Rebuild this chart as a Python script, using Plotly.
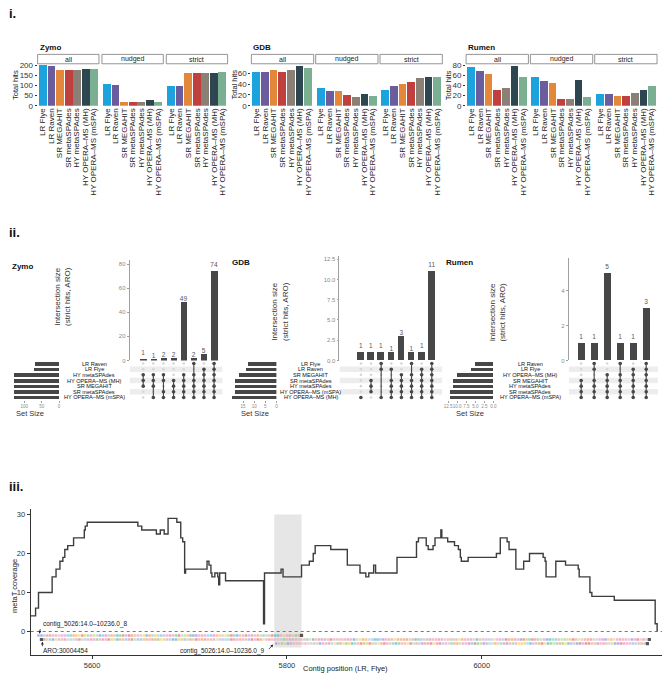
import plotly.graph_objects as go

# ================= DATA =================
ASSEMBLERS = ["LR Flye", "LR Raven", "SR MEGAHIT", "SR metaSPAdes",
              "HY metaSPAdes", "HY OPERA–MS (MH)", "HY OPERA–MS (mSPA)"]
ASM_COLORS = ["#1CA3DD", "#6A5C9D", "#E3883A", "#C0403F", "#8B8075", "#2D4650", "#7AAF92"]
FACETS = ["all", "nudged", "strict"]

zymo_all = [198, 193, 175, 175, 177, 182, 179]
zymo_nudged = [105, 100, 18, 15, 18, 25, 15]
zymo_strict = [97, 95, 159, 162, 159, 159, 164]
gdb_all = [61, 61, 66, 62, 65, 73, 69]
gdb_nudged = [32, 27, 27, 19, 15, 21, 17]
gdb_strict = [29, 35, 40, 44, 51, 53, 53]
rumen_all = [77, 69, 62, 31, 35, 79, 56]
rumen_nudged = [56, 49, 45, 13, 12, 50, 16]
rumen_strict = [22, 22, 18, 18, 24, 30, 39]

# UpSet panels (rows listed top to bottom)
zymo_rows = ["LR Raven", "LR Flye", "HY metaSPAdes", "HY OPERA–MS (MH)",
             "SR MEGAHIT", "SR metaSPAdes", "HY OPERA–MS (mSPA)"]
zymo_set_sizes = [71, 72, 129, 129, 129, 129, 129]
zymo_inter = [1, 1, 2, 2, 49, 2, 5, 74]
zymo_members = ["0011100", "0011101", "0011011", "0001111",
                "0011111", "1011111", "0111111", "1111111"]

gdb_rows = ["LR Flye", "LR Raven", "SR MEGAHIT", "SR metaSPAdes",
            "HY metaSPAdes", "HY OPERA–MS (mSPA)", "HY OPERA–MS (MH)"]
gdb_set_sizes = [13, 14, 17, 19, 19, 19, 20]
gdb_inter = [1, 1, 1, 1, 3, 1, 1, 11]
gdb_members = ["0000001", "0001110", "1100001", "0101111",
               "0011111", "1011111", "0111111", "1111111"]

rumen_rows = ["LR Raven", "LR Flye", "HY OPERA–MS (MH)", "SR MEGAHIT",
              "HY metaSPAdes", "SR metaSPAdes", "HY OPERA–MS (mSPA)"]
rumen_set_sizes = [5, 6, 10, 11, 11, 12, 12]
rumen_inter = [1, 1, 5, 1, 1, 3]
rumen_members = ["0001111", "1101111", "0011111", "1011111", "0111111", "1111111"]

# Coverage step profile (contig position, metaT coverage)
cov_pos = [5537, 5542, 5545, 5559, 5563, 5567, 5570, 5572, 5575, 5581, 5592, 5593, 5595,
           5647, 5651, 5666, 5670, 5674, 5678, 5687, 5691, 5693, 5695, 5696, 5718, 5720,
           5722, 5723, 5726, 5729, 5730, 5731, 5737, 5776, 5777, 5794, 5796, 5815, 5823,
           5827, 5829, 5845, 5862, 5875, 5881, 5884, 5889, 5891, 5913, 5933, 5935, 5943,
           5945, 5950, 5952, 5958, 5959, 5965, 5972, 5976, 5978, 5979, 5986, 6015, 6019,
           6026, 6028, 6035, 6043, 6049, 6063, 6065, 6066, 6076, 6086, 6099, 6100, 6111,
           6113, 6136, 6178, 6180]
cov_val = [4, 6, 10, 14, 16, 18, 19, 21, 22, 24, 26, 27, 28,
           27, 26, 25, 26, 25, 29, 28, 24, 23, 15, 16, 18, 17,
           15, 14, 15, 14, 12, 15, 13, 2, 15, 16, 14, 17, 18,
           20, 22, 21, 17, 15, 14, 15, 17, 15, 19, 23, 24, 22,
           21, 22, 24, 26, 24, 23, 22, 21, 19, 18, 19, 20, 24,
           23, 21, 16, 18, 20, 19, 18, 14, 18, 17, 16, 14, 10,
           9, 8, 2, 0]
highlight_region = [5787, 5815]

# translated sequence tracks ('*' = start/stop marker)
seq_row1 = "".join(["MKTLLVAGSS", "RQEPIDNFAY", "GKRLTEVHQW", "SDLPAGIKEF", "NTRAVLSQDG",
                    "YPHKMAESTR", "LVNGIFDQKP", "AWSLTEGRYV", "DHKANSLPQE", "*"])
seq_row2 = "".join(["*", "MNRKIAVLGT", "GSWGTALAQV", "LADNGHEVRL", "WGRRPEVLEQ", "INSTHKNPRY",
                    "LPDVELPASI", "TATTDLAEAV", "RDADLIVLAV", "PTQALRSVVS", "QIKPLLRPDA",
                    "VVVSLAKGIE", "PGTHKRMSEV", "IEEELGEHLR", "PRLAVLSGPS", "FAIEVAEGKP",
                    "TAVTIASTDE", "ELAKWVQDLF", "GSKHFRVYTN", "PDVIGVELGG", "ALKNVIALAA",
                    "GMSDGLG", "*"])
seq_row3 = "".join(["MTEYKLVVVG", "AGGVGKSALT", "IQLIQNHFVD", "EYDPTIEDSY", "RKQVVIDGET",
                    "CLLDILDTAG", "QEEYSAMRDQ", "YMRTGEGFLC", "VFAINNTKSF", "EDIHQYREQI",
                    "KRVKDSDDVP", "MVLVGNKCDL", "AARTVES", "*"])
seq_starts = [5545, 5548, 5789]
seq_levels = [-1.0, -2.05, -3.1]
AA_COLORS = {"A": "#EE9CC6", "R": "#7CC3E8", "N": "#EFCB4E", "D": "#DE6F6F", "C": "#A58BD8",
             "Q": "#7ACB8A", "E": "#F2A067", "G": "#C8C8C8", "H": "#52B8B2", "I": "#F0D870",
             "L": "#EC8CA0", "K": "#6E9FE0", "M": "#B487D0", "F": "#8DD29F", "P": "#F6B470",
             "S": "#DE9ADE", "T": "#98CBEE", "W": "#C28E58", "Y": "#B0DD80", "V": "#E8A8A8",
             "*": "#111111"}

# ================= LAYOUT HELPERS =================
W, H = 666, 680
FONT = "Liberation Sans, Arial, Helvetica, sans-serif"


def px_x(p):
    return p / W


def px_y(p):
    return 1 - p / H


fig = go.Figure()
layout = {}
annotations = []
shapes = []
cnt = {"x": 0, "y": 0}


def new_axis(letter, **kw):
    cnt[letter] += 1
    n = cnt[letter]
    key = f"{letter}axis" + ("" if n == 1 else str(n))
    ref = letter + ("" if n == 1 else str(n))
    base = dict(showgrid=False, zeroline=False, showline=False, ticks="",
                showticklabels=False, fixedrange=True)
    base.update(kw)
    layout[key] = base
    return ref, key


def txt(text, x, y, size, color="#222", bold=False, xanchor="left", angle=0, **kw):
    if bold:
        text = f"<b>{text}</b>"
    d = dict(text=text, x=px_x(x), y=px_y(y), xref="paper", yref="paper", showarrow=False,
             xanchor=xanchor, yanchor="middle", textangle=angle,
             font=dict(size=size, color=color, family=FONT))
    d.update(kw)
    annotations.append(d)


# ================= PANEL i =================
TOP_I, BOT_I = 62, 104
panel_i = [
    ("Zymo", [zymo_all, zymo_nudged, zymo_strict], [(35, 97), (100, 162), (165, 227)],
     205, [0, 50, 100, 150, 200], 12),
    ("GDB", [gdb_all, gdb_nudged, gdb_strict], [(251, 314), (316, 379), (381, 444)],
     76.4, [0, 20, 40, 60], 233),
    ("Rumen", [rumen_all, rumen_nudged, rumen_strict], [(468, 531), (533, 596), (598, 661)],
     82, [0, 20, 40, 60, 80], 450),
]
for name, series, xdoms, ymax, yticks, ytitle_x in panel_i:
    yref, ykey = new_axis("y", domain=[px_y(BOT_I), px_y(TOP_I)], range=[0, ymax],
                          tickvals=yticks, showticklabels=True, ticks="outside", ticklen=2,
                          tickcolor="#333", tickwidth=0.8, tickfont=dict(size=8, color="#333"))
    for i, (vals, fac, (a, b)) in enumerate(zip(series, FACETS, xdoms)):
        xref, xkey = new_axis("x", domain=[px_x(a), px_x(b)], range=[-0.6, 6.6], anchor=yref,
                              type="category", showticklabels=True, tickangle=-90,
                              tickmode="array", tickvals=ASSEMBLERS, ticktext=ASSEMBLERS,
                              tickfont=dict(size=8, color="#222"))
        if i == 0:
            layout[ykey]["anchor"] = xref
        fig.add_trace(go.Bar(x=ASSEMBLERS, y=vals, marker=dict(color=ASM_COLORS, line=dict(width=0)),
                             width=0.9, xaxis=xref, yaxis=yref, showlegend=False, hoverinfo="skip"))
        shapes.append(dict(type="rect", xref="paper", yref="paper", x0=px_x(a), x1=px_x(b),
                           y0=px_y(61.5), y1=px_y(52), line=dict(color="#7a7a7a", width=0.8),
                           fillcolor="white"))
        txt(fac, (a + b) / 2, 56.8, 7, xanchor="center")
    txt(name, xdoms[0][0], 45.5, 8, color="#111", bold=True)
    txt("Total hits", ytitle_x, 83, 7.5, xanchor="center", angle=-90)

# ================= PANEL ii (UpSet) =================
MAT_TOP, MAT_BOT = 362, 402
BAR_BASE = 361.7
panel_ii = [
    dict(name="Zymo", rows=zymo_rows, sizes=zymo_set_sizes, inter=zymo_inter, members=zymo_members,
         title=(7, 267), bar_dom=(128, 222), xr=(-1.34, 7.85), bar_top=260, ymax=83.5,
         yticks=[0, 20, 40, 60, 80], yfmt="d", ss_dom=(10, 56.7), ss_max=133,
         ss_ticks=[0, 50, 100], ss_fmt="d", label_cx=92, ylab=(60, 297), setsize_x=27, bw=0.62),
    dict(name="GDB", rows=gdb_rows, sizes=gdb_set_sizes, inter=gdb_inter, members=gdb_members,
         title=(229, 263), bar_dom=(340, 444), xr=(-2.12, 8.04), bar_top=256, ymax=12.9,
         yticks=[0, 2.5, 5, 7.5, 10, 12.5], yfmt=".1f", ss_dom=(230, 276.3), ss_max=20.6,
         ss_ticks=[0, 5, 10, 15], ss_fmt="d", label_cx=311, ylab=(279.5, 312), setsize_x=255, bw=0.65),
    dict(name="Rumen", rows=rumen_rows, sizes=rumen_set_sizes, inter=rumen_inter,
         members=rumen_members,
         title=(446, 263), bar_dom=(571.7, 662), xr=(-0.96, 5.91), bar_top=258, ymax=5.87,
         yticks=[0, 2, 4], yfmt="d", ss_dom=(448, 495.7), ss_max=13.0,
         ss_ticks=[0, 2.5, 5, 7.5, 10, 12.5], ss_fmt=".1f", label_cx=533, ylab=(499.5, 313),
         setsize_x=472, bw=0.56),
]
GRAY_TXT = "#8a8a8a"
DARK = "#474747"
for P in panel_ii:
    nrow = len(P["rows"])
    ncol = len(P["inter"])
    xa, xa_key = new_axis("x", domain=[px_x(P["bar_dom"][0]), px_x(P["bar_dom"][1])],
                          range=list(P["xr"]))
    ya, ya_key = new_axis("y", domain=[px_y(BAR_BASE), px_y(P["bar_top"])], range=[0, P["ymax"]],
                          anchor=xa, showline=True, linecolor="#a0a0a0", linewidth=0.8,
                          tickvals=P["yticks"], tickformat=P["yfmt"], showticklabels=True,
                          ticks="outside", ticklen=2, tickcolor="#a0a0a0",
                          tickfont=dict(size=6, color=GRAY_TXT))
    layout[xa_key]["anchor"] = ya
    ym, ym_key = new_axis("y", domain=[px_y(MAT_BOT), px_y(MAT_TOP)], range=[nrow - 0.5, -0.5],
                          anchor=xa)
    xs, xs_key = new_axis("x", domain=[px_x(P["ss_dom"][0]), px_x(P["ss_dom"][1])],
                          range=[P["ss_max"], 0], anchor=ym, tickvals=P["ss_ticks"],
                          tickformat=P["ss_fmt"], showticklabels=True, ticks="outside", ticklen=1.5,
                          tickangle=0, tickcolor="#a0a0a0", tickfont=dict(size=4.5, color=GRAY_TXT))

    cols = list(range(ncol))
    fig.add_trace(go.Bar(x=cols, y=P["inter"], xaxis=xa, yaxis=ya, width=P["bw"],
                         marker=dict(color=DARK, line=dict(width=0)), text=P["inter"],
                         textposition="outside", constraintext="none", cliponaxis=False,
                         textfont=dict(size=6.5, color="#555555", family=FONT),
                         outsidetextfont=dict(size=6.5, color="#555555", family=FONT),
                         showlegend=False, hoverinfo="skip"))

    # stripes in matrix
    for r in range(1, nrow, 2):
        shapes.append(dict(type="rect", xref=xa, yref=ym, x0=P["xr"][0], x1=P["xr"][1],
                           y0=r - 0.5, y1=r + 0.5, fillcolor="#EDEDED", line=dict(width=0),
                           layer="below"))

    in_x, in_y, ac_x, ac_y, ln_x, ln_y = [], [], [], [], [], []
    for c, m in enumerate(P["members"]):
        act = [r for r, v in enumerate(m) if v == "1"]
        for r, v in enumerate(m):
            if v == "1":
                ac_x.append(c)
                ac_y.append(r)
            else:
                in_x.append(c)
                in_y.append(r)
        ln_x += [c, c, None]
        ln_y += [min(act), max(act), None]
    fig.add_trace(go.Scatter(x=in_x, y=in_y, mode="markers", xaxis=xa, yaxis=ym,
                             marker=dict(size=2.6, color="#D6D6D6"), showlegend=False,
                             hoverinfo="skip"))
    fig.add_trace(go.Scatter(x=ln_x, y=ln_y, mode="lines", xaxis=xa, yaxis=ym,
                             line=dict(color=DARK, width=1.1), showlegend=False, hoverinfo="skip"))
    fig.add_trace(go.Scatter(x=ac_x, y=ac_y, mode="markers", xaxis=xa, yaxis=ym,
                             marker=dict(size=3.6, color=DARK), showlegend=False, hoverinfo="skip"))

    fig.add_trace(go.Bar(y=list(range(nrow)), x=P["sizes"], orientation="h", xaxis=xs, yaxis=ym,
                         width=0.62, marker=dict(color=DARK, line=dict(width=0)),
                         showlegend=False, hoverinfo="skip"))

    for r, lab in enumerate(P["rows"]):
        annotations.append(dict(text=lab, x=px_x(P["label_cx"]), xref="paper", y=r, yref=ym,
                                showarrow=False, xanchor="center", yanchor="middle",
                                font=dict(size=5.6, color="#111", family=FONT)))
    txt(P["name"], P["title"][0], P["title"][1], 8, color="#111", bold=True)
    txt("Set Size", P["setsize_x"], 415, 7.5, color="#333", xanchor="center")
    txt("Intersection size<br>(strict hits, ARO)", P["ylab"][0], P["ylab"][1], 8,
        color="#333", xanchor="center", angle=-90)

# ================= PANEL iii =================
x3, x3_key = new_axis("x", domain=[px_x(28), px_x(666)], range=[5537, 6185],
                      showline=True, linecolor="#333", linewidth=1, ticks="outside", ticklen=3,
                      tickcolor="#333", tickvals=[5600, 5800, 6000], showticklabels=True,
                      tickfont=dict(size=7.5, color="#333"))
y3, y3_key = new_axis("y", domain=[px_y(660), px_y(512)], range=[-6.08, 31.4],
                      showline=True, linecolor="#333", linewidth=1, ticks="outside", ticklen=3,
                      tickcolor="#333", tickvals=[0, 10, 20, 30], showticklabels=True,
                      tickfont=dict(size=7.5, color="#333"))
layout[x3_key]["anchor"] = y3
layout[y3_key]["anchor"] = x3

shapes.append(dict(type="rect", xref=x3, yref=y3, x0=highlight_region[0], x1=highlight_region[1],
                   y0=-4.1, y1=30, fillcolor="#E6E6E6", line=dict(width=0), layer="below"))
shapes.append(dict(type="line", xref=x3, yref=y3, x0=5537, x1=6185, y0=0, y1=0,
                   line=dict(color="#555", width=0.8, dash="dot")))

for seq, start, lev in zip([seq_row1, seq_row2, seq_row3], seq_starts, seq_levels):
    xs_ = [start + 3 * i for i in range(len(seq))]
    cols_ = [AA_COLORS.get(ch, "#cccccc") for ch in seq]
    sizes_ = [3.2 if ch == "*" else 2.5 for ch in seq]
    fig.add_trace(go.Scatter(x=xs_, y=[lev] * len(seq), mode="markers", xaxis=x3, yaxis=y3,
                             marker=dict(symbol="square", size=sizes_, color=cols_,
                                         line=dict(width=0)),
                             showlegend=False, hoverinfo="skip"))

fig.add_trace(go.Scatter(x=cov_pos, y=cov_val, mode="lines", line=dict(shape="hv", color="#3d3d3d",
                                                                     width=1.4),
                         xaxis=x3, yaxis=y3, showlegend=False, hoverinfo="skip"))

# gene labels with arrows
txt("contig_5026:14.0–10236.0_8", 38, 628, 6.5, color="#222")
txt("ARO:30004454", 38, 655.5, 6.5, color="#222")
txt("contig_5026:14.0–10236.0_9", 267, 656, 6.5, color="#222", xanchor="right")
for hx, hy, axp, ayp in [(5546, -0.55, 1, -6), (5549, -2.6, 0, 6), (5786, -3.35, -6, 6)]:
    annotations.append(dict(text="", x=hx, y=hy, xref=x3, yref=y3, showarrow=True, ax=axp, ay=ayp,
                            arrowhead=2, arrowsize=0.7, arrowwidth=0.8, arrowcolor="#222"))

txt("metaT coverage", 11, 590, 7.5, color="#222", xanchor="center", angle=-90)
txt("Contig position (LR, Flye)", 346, 673, 7.5, color="#222", xanchor="center")

# panel labels
txt("i.", 4, 11, 13, color="#111", bold=True)
txt("ii.", 4, 232, 13, color="#111", bold=True)
txt("iii.", 4, 489, 13, color="#111", bold=True)

fig.update_layout(
    width=W, height=H, margin=dict(l=0, r=0, t=0, b=0),
    paper_bgcolor="white", plot_bgcolor="white",
    font=dict(family=FONT, size=8, color="#222"),
    showlegend=False, bargap=0,
    annotations=annotations, shapes=shapes,
    **layout,
)
fig.write_html("out.html", config={"displayModeBar": False},
               post_script="document.body.style.margin='0';document.body.style.overflow='hidden';")
